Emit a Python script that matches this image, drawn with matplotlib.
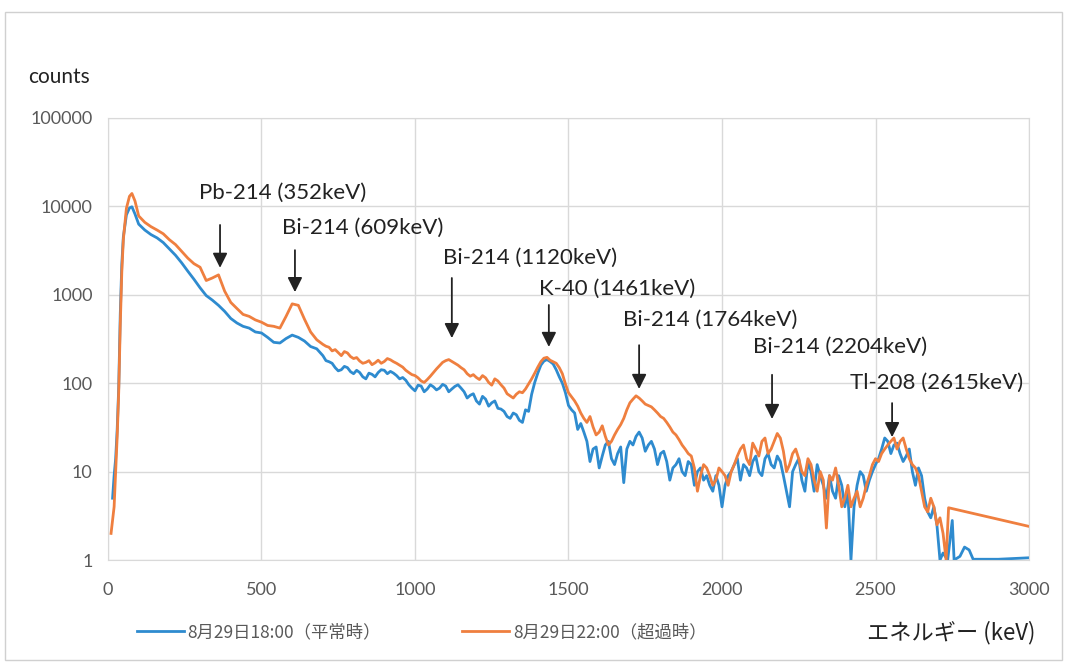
import matplotlib
matplotlib.use('Agg')
import matplotlib.pyplot as plt
from matplotlib.ticker import NullLocator
from matplotlib.patches import Rectangle

plt.rcParams['font.family'] = ['Lato', 'Noto Sans CJK JP', 'DejaVu Sans']

# energy (keV) and counts
kev_start_blue = [15, 20, 25, 30, 35, 40, 45, 50, 60, 70, 78, 88, 100]
kev_start_orange = [10, 20, 25, 30, 35, 40, 45, 50, 60, 70, 78, 88, 100]
blue_start = [5, 9, 14, 30, 90, 600, 2200, 4500, 8000, 9600, 9900, 8200, 6300]
orange_start = [2, 4, 10, 25, 80, 450, 1800, 4200, 9500, 13000, 14000, 11500, 7800]

kev_main = list(range(120, 2740, 20))
blue_main = [
    5400, 4800, 4400, 3900, 3300, 2800, 2300, 1850, 1500, 1200,   # 120-300
    980, 870, 760, 650, 540, 480, 440, 420, 380, 370,             # 320-500
    330, 290, 285, 320, 350, 330, 300, 260, 245, 205,             # 520-700
    175, 150, 142, 150, 128, 132, 112, 126, 132, 140,             # 720-900
    136, 122, 116, 96, 82, 93, 86, 91, 88, 93,                    # 920-1100
    86, 96, 80, 73, 63, 71, 55, 63, 51, 42,                       # 1120-1300
    46, 38, 50, 75, 130, 178, 176, 142, 100, 56,                  # 1320-1500
    46, 35, 22, 18, 11, 20, 14, 16, 7.5, 22,                      # 1520-1700
    25, 24, 20, 18, 16, 13, 11, 14, 9, 12,                        # 1720-1900
    10, 8, 7, 9, 4, 9, 12, 8, 11, 13,                             # 1920-2100
    10, 14, 12, 15, 9, 4, 12, 8, 13, 6,                           # 2120-2300
    9, 5, 6, 9, 4, 1, 7, 9, 8, 12,                                # 2320-2500
    18, 22, 20, 16, 15, 10, 11, 5, 3, 2.5,                        # 2520-2700
    1.2,                                                          # 2720
]
orange_main = [
    6600, 5900, 5400, 4900, 4200, 3700, 3100, 2600, 2250, 2050,
    1450, 1550, 1680, 1100, 820, 700, 600, 570, 520, 490,
    450, 440, 420, 570, 790, 760, 530, 380, 310, 275,
    255, 240, 205, 220, 190, 178, 172, 162, 182, 176,
    184, 168, 152, 132, 122, 106, 110, 132, 158, 180,
    176, 160, 142, 120, 116, 122, 102, 112, 96, 76,
    68, 80, 86, 112, 152, 192, 182, 168, 128, 78,
    63, 46, 36, 32, 28, 25, 22, 30, 40, 60,
    72, 63, 56, 50, 42, 36, 28, 23, 18, 15,
    6, 12, 9, 8, 10, 7, 12, 18, 14, 21,
    15, 24, 18, 27, 17, 12, 18, 10, 14, 8,
    10, 2.3, 8, 7, 5, 4, 6, 5, 9, 14,
    16, 20, 24, 22, 18, 12, 9, 4, 5, 2.5,
    2,
]

# in-between channels (the jitter of the spectrum)
kev_mid = list(range(710, 2720, 20))
blue_mid = [
    180, 168, 138, 155, 135, 140, 118, 130, 118, 142,             # 710-890
    128, 130, 112, 108, 88, 95, 80, 96, 84, 97,                   # 910-1090
    80, 92, 88, 68, 76, 58, 66, 60, 52, 48,                       # 1110-1290
    40, 44, 36, 48, 102, 160, 185, 165, 118, 78,                  # 1310-1490
    50, 30, 28, 13, 19, 15, 22, 12, 19, 18,                       # 1510-1690
    20, 28, 17, 22, 12, 17, 8, 12, 10, 13,                        # 1710-1890
    7, 11, 9, 6, 7, 7, 10, 14, 12, 9,                             # 1910-2090
    15, 9, 16, 11, 13, 6, 10, 14, 6, 10,                          # 2110-2290
    12, 7, 9, 5, 7, 6, 4, 10, 6, 10,                              # 2310-2490
    14, 24, 16, 21, 13, 18, 7, 9, 3.5, 4,                         # 2510-2690
    1.0,                                                          # 2710
]
orange_mid = [
    262, 232, 222, 228, 200, 195, 168, 180, 170, 168,
    190, 175, 160, 140, 125, 115, 102, 120, 145, 172,
    185, 168, 150, 128, 125, 110, 115, 95, 106, 88,
    72, 75, 78, 98, 130, 175, 196, 175, 150, 98,
    70, 55, 40, 42, 26, 33, 20, 26, 34, 50,
    66, 68, 58, 54, 46, 40, 32, 26, 20, 16,
    11, 9, 11, 7, 11, 9, 10, 15, 20, 12,
    18, 22, 16, 22, 24, 10, 16, 14, 9, 12,
    6, 8, 9, 11, 4, 7, 5, 4, 7, 12,
    13, 18, 22, 18, 24, 14, 11, 6, 3.5, 4,
    3,
]

kev_blue_tail = [2735, 2750, 2756, 2775, 2790, 2805, 2818, 2900, 3000]
blue_tail = [1.0, 2.8, 1.0, 1.1, 1.4, 1.3, 1.02, 1.02, 1.06]
kev_orange_tail = [2730, 2738, 3000]
orange_tail = [1.0, 3.9, 2.4]

series_names = ['8月29日18:00（平常時）', '8月29日22:00（超過時）']

peak_labels = ['Pb-214 (352keV)', 'Bi-214 (609keV)', 'Bi-214 (1120keV)',
               'K-40 (1461keV)', 'Bi-214 (1764keV)', 'Bi-214 (2204keV)',
               'Tl-208 (2615keV)']

# annotation layout: arrow x (keV), arrow tail/tip and label centre (axes fraction)
arrow_x = [365, 609, 1120, 1436, 1730, 2163, 2554]
arrow_tail = [0.758, 0.701, 0.638, 0.577, 0.486, 0.419, 0.355]
arrow_tip = [0.661, 0.606, 0.502, 0.482, 0.387, 0.319, 0.278]
label_x = [570, 831, 1375, 1658, 1961, 2384, 2700]
label_y = [0.830, 0.751, 0.683, 0.613, 0.543, 0.482, 0.400]

BLUE = '#2e8bcf'
ORANGE = '#ef7f3f'


def merge(k1, v1, k2, v2):
    pts = sorted(zip(k1 + k2, v1 + v2))
    return [p[0] for p in pts], [p[1] for p in pts]


bk, bv = merge(kev_main, blue_main, kev_mid, blue_mid)
ok, ov = merge(kev_main, orange_main, kev_mid, orange_mid)

fig = plt.figure(figsize=(10.68, 6.67), dpi=100)
ax = fig.add_axes([0.1011, 0.1604, 0.8624, 0.6627])

ax.plot(kev_start_blue + bk + kev_blue_tail, blue_start + bv + blue_tail,
        color=BLUE, lw=2.0, label=series_names[0])
ax.plot(kev_start_orange + ok + kev_orange_tail, orange_start + ov + orange_tail,
        color=ORANGE, lw=2.0, label=series_names[1])

ax.set_yscale('log')
ax.set_ylim(1, 100000)
ax.set_xlim(0, 3000)
yt = [1, 10, 100, 1000, 10000, 100000]
ax.set_yticks(yt)
ax.set_yticklabels([str(v) for v in yt])
ax.yaxis.set_minor_locator(NullLocator())
ax.set_xticks([0, 500, 1000, 1500, 2000, 2500, 3000])
ax.grid(color='#d9d9d9', lw=1)
ax.set_axisbelow(True)
ax.tick_params(length=0, labelsize=13, labelcolor='#595959')
ax.tick_params(axis='y', pad=11)
ax.tick_params(axis='x', pad=16)
for s in ax.spines.values():
    s.set_color('#d9d9d9')

trans = ax.get_xaxis_transform()
for i in range(len(peak_labels)):
    ax.annotate('', xy=(arrow_x[i], arrow_tip[i]), xytext=(arrow_x[i], arrow_tail[i]),
                xycoords=trans, textcoords=trans,
                arrowprops=dict(arrowstyle='-|>', color='#222222', lw=1.3,
                                mutation_scale=22, shrinkA=0, shrinkB=0))
    ax.text(label_x[i], label_y[i], peak_labels[i], transform=trans,
            ha='center', va='center', fontsize=16, color='#222222')

fig.text(28 / 1068, 1 - 77 / 667, 'counts', fontsize=15, color='#222222', va='center')
fig.text(1035 / 1068, 1 - 633 / 667, 'エネルギー (keV)', fontsize=16,
         color='#222222', ha='right', va='center',
         family=['Noto Sans CJK JP', 'DejaVu Sans'])

leg = fig.legend(loc='center left', bbox_to_anchor=(137 / 1068, 1 - 632 / 667),
                 ncol=2, frameon=False, borderpad=0, borderaxespad=0,
                 handlelength=2.7, handletextpad=0.2, columnspacing=4.7,
                 prop={'family': ['Noto Sans CJK JP', 'DejaVu Sans'], 'size': 12.5})
for t in leg.get_texts():
    t.set_color('#595959')

fig.patches.append(Rectangle((0.005, 0.01), 0.989, 0.972, transform=fig.transFigure,
                             fill=False, edgecolor='#d0d0d0', lw=1))

fig.savefig('out.png', dpi=100)
